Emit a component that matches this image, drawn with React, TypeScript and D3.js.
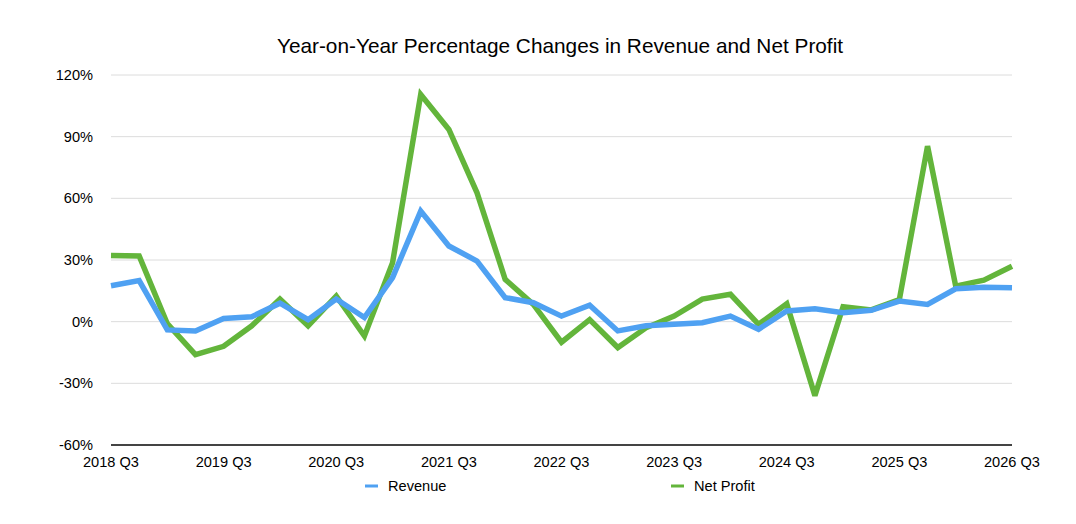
import * as d3 from "d3";

const quarters = [
  "2018 Q3", "2018 Q4", "2019 Q1", "2019 Q2", "2019 Q3", "2019 Q4", "2020 Q1", "2020 Q2",
  "2020 Q3", "2020 Q4", "2021 Q1", "2021 Q2", "2021 Q3", "2021 Q4", "2022 Q1", "2022 Q2",
  "2022 Q3", "2022 Q4", "2023 Q1", "2023 Q2", "2023 Q3", "2023 Q4", "2024 Q1", "2024 Q2",
  "2024 Q3", "2024 Q4", "2025 Q1", "2025 Q2", "2025 Q3", "2025 Q4", "2026 Q1", "2026 Q2",
  "2026 Q3",
];

const revenue = [
  17.5, 20, -4, -4.5, 1.5, 2.4, 9, 1, 11, 2, 21.4, 53.8, 36.8, 29.5, 11.7, 9.2,
  2.7, 8, -4.5, -2, -1.3, -0.5, 2.7, -3.7, 5.2, 6.3, 4.4, 5.5, 10, 8.4, 16, 16.8, 16.5,
];

const netProfit = [
  32.2, 32, -1, -16, -12, -2, 11, -2, 12.5, -7, 28.7, 110.5, 93.5, 62.7, 20.6, 8.4,
  -10, 1, -12.6, -3, 2.7, 11, 13.3, -1.3, 8.7, -36, 7.3, 5.7, 10.8, 85.4, 17.3, 20.2, 27,
];

const yTicks = [-60, -30, 0, 30, 60, 90, 120];
const xTickLabels = quarters.filter((_, i) => i % 4 === 0);

const width = 1076;
const height = 524;
const margin = { left: 111, right: 64, top: 75, bottom: 79 };
const font = "'Liberation Sans', Arial, Helvetica, sans-serif";

const blue = "#4fa1f2";
const green = "#63b53b";

const App = () => {
  const x = d3
    .scalePoint<string>()
    .domain(quarters)
    .range([margin.left, width - margin.right]);
  const y = d3
    .scaleLinear()
    .domain([-60, 120])
    .range([height - margin.bottom, margin.top]);

  const line = d3
    .line<number>()
    .x((_, i) => x(quarters[i]) as number)
    .y((d) => y(d));

  const series = [
    { name: "Revenue", values: revenue, color: blue, lx: 365 },
    { name: "Net Profit", values: netProfit, color: green, lx: 671 },
  ];

  return (
    <svg
      width={width}
      height={height}
      style={{ position: "absolute", left: 0, top: 0, background: "#fff" }}
      fontFamily={font}
    >
      <text x={560} y={53} textAnchor="middle" fontSize={20.8} fill="#000">
        Year-on-Year Percentage Changes in Revenue and Net Profit
      </text>

      {/* grid + y labels */}
      {yTicks.map((t) => (
        <g key={t}>
          {t !== -60 && (
            <line
              x1={margin.left}
              x2={width - margin.right}
              y1={y(t)}
              y2={y(t)}
              stroke="#dcdcdc"
              strokeWidth={1}
            />
          )}
          <text
            x={93}
            y={y(t)}
            dy="0.35em"
            textAnchor="end"
            fontSize={14.6}
            fill="#000"
          >
            {t}%
          </text>
        </g>
      ))}

      {/* series */}
      {series
        .slice()
        .reverse()
        .map((s) => (
          <path
            key={s.name}
            d={line(s.values) || ""}
            fill="none"
            stroke={s.color}
            strokeWidth={5.5}
            strokeLinejoin="miter"
            strokeMiterlimit={3}
          />
        ))}

      {/* x axis */}
      <line
        x1={margin.left}
        x2={width - margin.right}
        y1={y(-60)}
        y2={y(-60)}
        stroke="#444"
        strokeWidth={2}
      />
      {xTickLabels.map((q) => (
        <text
          key={q}
          x={x(q) as number}
          y={467}
          textAnchor="middle"
          fontSize={14.6}
          fill="#000"
        >
          {q}
        </text>
      ))}

      {/* legend */}
      {series.map((s) => (
        <g key={s.name}>
          <line
            x1={s.lx}
            x2={s.lx + 13}
            y1={486}
            y2={486}
            stroke={s.color}
            strokeWidth={3}
          />
          <text x={s.lx + 23} y={491} fontSize={14.6} fill="#000">
            {s.name}
          </text>
        </g>
      ))}
    </svg>
  );
};

export default App;
